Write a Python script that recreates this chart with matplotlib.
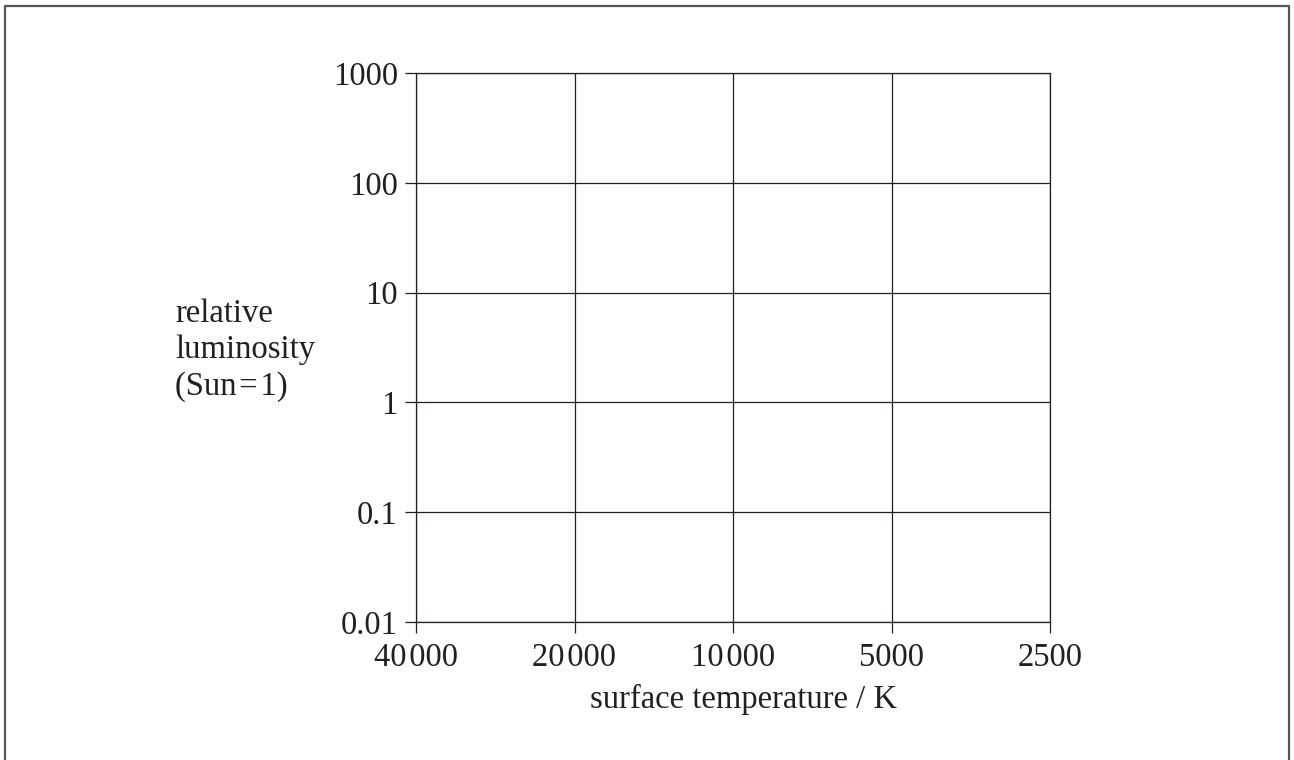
import matplotlib
matplotlib.use("Agg")
import matplotlib.pyplot as plt
from matplotlib.lines import Line2D

# axis values
temps = [40000, 20000, 10000, 5000, 2500]
temp_labels = ["40\u200a000", "20\u200a000", "10\u200a000", "5000", "2500"]
lums = [0.01, 0.1, 1, 10, 100, 1000]
lum_labels = ["0.01", "0.1", "1", "10", "100", "1000"]

plt.rcParams['font.family'] = ['Liberation Serif', 'DejaVu Serif']
fs = 23.5
ink = '#231f20'

fig = plt.figure(figsize=(12.94, 7.6), dpi=100)
ax = fig.add_axes([416 / 1294, 138 / 760, 634 / 1294, 549 / 760])

ax.set_xscale('log')
ax.set_yscale('log')
ax.set_xlim(temps[0], temps[-1])
ax.set_ylim(lums[0], lums[-1])

ax.set_xticks(temps)
ax.set_xticklabels(temp_labels)
ax.set_yticks(lums)
ax.set_yticklabels(lum_labels)
ax.minorticks_off()

ax.tick_params(axis='x', direction='out', length=8, width=0.9, pad=7,
               labelsize=fs, colors=ink)
ax.tick_params(axis='y', direction='out', length=8, width=0.9, pad=5,
               labelsize=fs, colors=ink)
ax.grid(True, color=ink, linewidth=0.9)
for s in ax.spines.values():
    s.set_color(ink)
    s.set_linewidth(0.9)

fig.text(175 / 1294, 1 - 350 / 760, "relative\nluminosity\n(Sun\u200a=\u200a1)",
         ha='left', va='center', fontsize=fs, linespacing=1.25, color=ink)
fig.text(743 / 1294, 1 - 708 / 760, "surface temperature / K",
         ha='center', va='baseline', fontsize=fs, color=ink)

# outer frame (bottom edge runs off the image)
x0, x1 = 4.5 / 1294, 1289 / 1294
y0, y1 = -0.01, 1 - 5.5 / 760
fig.add_artist(Line2D([x0, x0, x1, x1], [y0, y1, y1, y0],
                      transform=fig.transFigure, color='#555555', linewidth=1.6))

fig.savefig("out.png", dpi=100)
